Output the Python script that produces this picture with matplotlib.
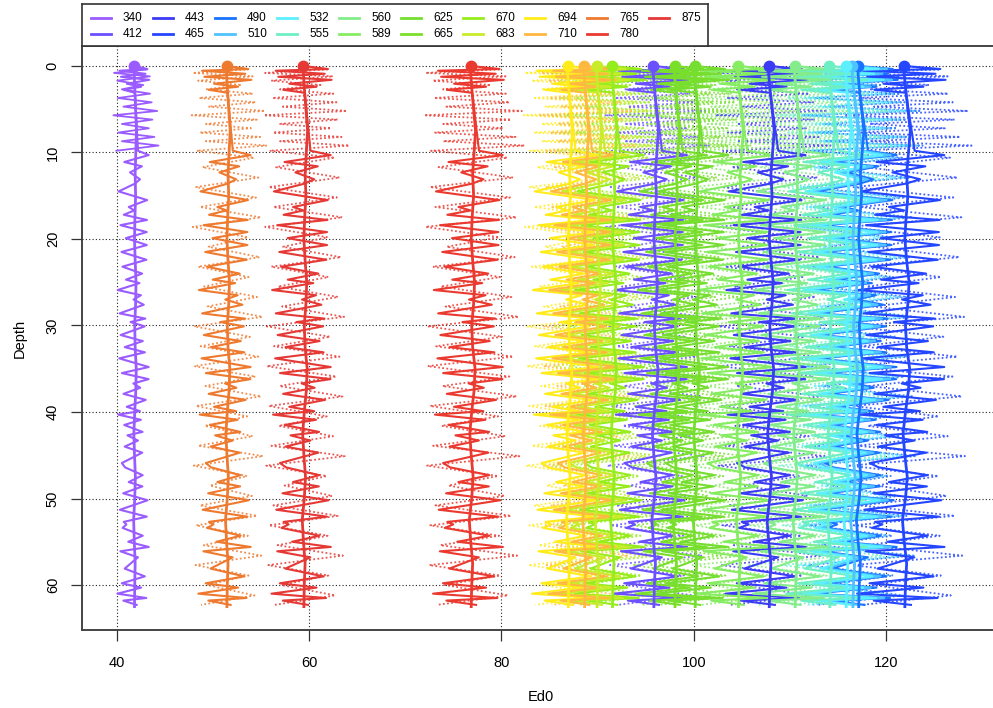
import numpy as np
import matplotlib
matplotlib.use("Agg")
import matplotlib.pyplot as plt

plt.rcParams['font.family'] = ['Liberation Sans', 'DejaVu Sans']

# ---------------- data ----------------
wavelengths = [340, 412, 443, 465, 490, 510, 532, 555, 560, 589,
               625, 665, 670, 683, 694, 710, 765, 780, 875]
colors = ['#9B5CFF', '#6A50FF', '#3B3BF5', '#2546FF', '#1A73FF', '#4FC3FF',
          '#5CF0FF', '#6CEFC2', '#84EC8A', '#86EC62', '#76DE30', '#7ADF2A',
          '#96EC1C', '#C9EC2A', '#FFEC1A', '#FFB840', '#EE7A30', '#EA3A30',
          '#E53935']
# Ed0 at the surface (dot at depth 0)
ed0_surface = [41.8, 95.8, 107.8, 121.9, 117.1, 116.5, 115.8, 114.1, 110.5, 104.6,
               100.1, 98.0, 91.5, 89.9, 86.9, 88.6, 51.4, 76.8, 59.4]
# amplitude of the fluctuations relative to the 780 nm profile
amp_scale = [0.45, 1.05, 1.15, 1.25, 1.2, 1.2, 1.15, 1.15, 1.1, 1.1,
             1.05, 1.0, 1.0, 1.0, 0.95, 0.95, 0.75, 1.0, 0.85]

# smooth profile (spine) offsets
spine_depth = [0, 1, 2.5, 5, 7.5, 10, 12.5, 15, 17.5, 20, 22.5, 25, 27.5, 30,
               32.5, 35, 37.5, 40, 42.5, 45, 47.5, 50, 52.5, 55, 57.5, 60, 62.5]
spine_off = [0, 0, 0.1, 0.3, 0.5, 0.35, 0.2, 0.3, 0.15, 0.05, 0.2, 0.4, 0.3, 0.1,
             0.2, 0.45, 0.35, 0.1, -0.1, 0.05, 0.25, 0.1, -0.15, 0.0, 0.2, 0.1, 0.05]

# raw measurements, dotted part (turning points)
dotted_depth = [0.0, 0.4, 0.8, 1.2, 1.7, 2.2, 2.7, 3.2, 3.7, 4.2,
                4.7, 5.2, 5.7, 6.2, 6.7, 7.2, 7.7, 8.2, 8.7, 9.2,
                9.8,
                10.6, 11.7, 12.9, 14.0, 15.2, 16.3, 17.5, 18.6, 19.8, 20.9,
                22.1, 23.2, 24.4, 25.5, 26.7, 27.8, 29.0, 30.1, 31.3, 32.4,
                33.6, 34.7, 35.9, 37.0, 38.2, 39.3, 40.5, 41.6, 42.8, 43.9,
                45.1, 46.2, 47.4, 48.5, 49.7, 50.8, 52.0, 53.1, 54.3, 55.4,
                56.6, 57.7, 58.9, 60.0, 61.2, 62.3]
dotted_off = [0.0, 3.0, -4.7, 3.6, -4.0, 2.0, -3.0, 3.5, -4.0, 3.8,
              -2.8, 5.0, -5.2, 3.8, -3.3, 2.9, -4.2, 4.2, -3.3, 5.2,
              -4.5,
              3.5, -3.6, 4.2, -4.5, 3.8, -3.9, 4.6, -4.8, 2.9, -2.6,
              4.4, -4.2, 2.7, -3.5, 3.9, -2.9, 4.8, -4.6, 3.1, -3.8,
              4.1, -4.9, 3.6, -3.3, 4.5, -4.4, 2.8, -3.0, 3.7, -3.9,
              5.0, -4.7, 2.6, -2.5, 3.4, -3.7, 4.3, -4.1, 3.0, -3.2,
              4.7, -4.5, 2.9, -2.8, 3.8, -3.6]

# raw measurements, solid part (turning points)
solid_depth = [0.0, 0.35, 0.55, 0.9, 1.25, 1.6, 2.05, 2.4, 2.75, 3.1,
               9.8, 10.3, 11.1, 11.6, 12.3, 13.1, 13.6, 14.5, 15.5, 16.3,
               16.7, 17.2, 17.8, 18.4, 19.2, 19.9, 20.7, 21.5, 22.4, 23.2,
               24.0, 24.7, 25.1, 25.9, 26.5, 27.0, 27.6, 28.6, 29.2, 29.6,
               30.1, 31.1, 31.8, 32.5, 33.1, 33.8, 34.8, 35.5, 36.2, 36.7,
               37.2, 37.9, 38.6, 39.4, 39.9, 40.3, 40.9, 41.5, 42.3, 42.7,
               43.3, 44.0, 44.7, 45.9, 46.4, 47.3, 48.1, 48.6, 49.4, 50.2,
               51.3, 52.1, 52.7, 53.0, 53.4, 54.3, 55.0, 55.6, 56.1, 56.8,
               58.1, 59.0, 59.8, 60.3, 61.0, 61.5, 61.8, 62.3]
solid_off = [0.0, 3.0, -3.4, 2.6, -3.1, 3.4, -1.8, 1.5, -2.6, 0.0,
             0.5, 3.0, -2.6, 1.5, -1.2, 1.1, -0.1, -3.9, 2.7, -1.5,
             -0.2, -2.6, 2.8, -3.3, 2.8, -2.0, 2.8, -3.1, 2.6, -3.0,
             1.5, -2.3, 0.8, -4.2, 1.2, -0.5, 1.9, -3.6, 2.4, -1.0,
             2.3, -3.3, 1.8, -2.4, 2.2, -3.8, 2.9, -3.3, 2.9, -0.6,
             1.0, -2.8, 2.4, -1.9, 1.2, -3.8, 1.5, -2.3, 2.0, -1.5,
             0.9, -2.2, 1.8, -3.0, -2.3, 1.7, -1.5, 1.7, -2.7, 3.0,
             -3.3, 3.0, -2.3, -1.7, -2.6, 2.0, -1.4, 3.3, -3.3, 0.7,
             -2.4, 2.3, -3.0, 1.5, -4.0, 2.7, -2.6, 0.5]

xticks = [40, 60, 80, 100, 120]
yticks = [0, 10, 20, 30, 40, 50, 60]

# ---------------- figure ----------------
W, H = 993, 708
fig = plt.figure(figsize=(W / 100, H / 100), dpi=100)
ax = fig.add_axes([82 / W, (H - 630) / H, (1000 - 82) / W, (630 - 46) / H])
ax.set_xlim(36.36, 131.86)
ax.set_ylim(65.2, -2.31)

for xv in xticks:
    ax.axvline(xv, color='#222222', lw=0.8, ls=(0, (1, 2)), zorder=0.5)
for yv in yticks:
    ax.axhline(yv, color='#222222', lw=0.8, ls=(0, (1, 2)), zorder=0.5)

sd = np.array(spine_depth)
so = np.array(spine_off)
dd = np.array(dotted_depth)
do = np.array(dotted_off)
sdd = np.array(solid_depth)
sdo = np.array(solid_off)


def spine_at(depths):
    return np.interp(depths, sd, so)


# dotted raw data
for wl, c, e, a in zip(wavelengths, colors, ed0_surface, amp_scale):
    base = e + a * spine_at(dd)
    x = base + a * do
    if wl == 340:
        top = dd <= 10.0
        ax.plot(x[top], dd[top], color=c, lw=1.3, zorder=2,
                solid_joinstyle='round')
    else:
        ax.plot(x, dd, color=c, lw=1.3, ls=(0, (1, 1.3)), alpha=0.85, zorder=1)

# solid raw data
for wl, c, e, a in zip(wavelengths, colors, ed0_surface, amp_scale):
    base = e + a * spine_at(sdd)
    ax.plot(base + a * sdo, sdd, color=c, lw=1.5, zorder=2,
            solid_joinstyle='round')

# smooth profile and surface value
for wl, c, e, a in zip(wavelengths, colors, ed0_surface, amp_scale):
    ax.plot(e + a * so, sd, color=c, lw=2.0, zorder=3)
    ax.plot([e], [0], 'o', color=c, ms=7.5, mec=c, zorder=4)

for s in ax.spines.values():
    s.set_linewidth(1.4)
    s.set_color('#444444')
ax.set_xticks(xticks)
ax.set_yticks(yticks)
ax.tick_params(axis='x', direction='out', length=8, width=0.9, pad=11,
               labelsize=10.5, color='#333333')
ax.tick_params(axis='y', direction='out', length=8, width=0.9, pad=8,
               labelsize=10.5, color='#333333')
for lab in ax.get_yticklabels():
    lab.set_rotation(90)
    lab.set_va('center')

fig.text(541 / W, 1 - 697 / H, 'Ed0', ha='center', va='center', fontsize=10.5)
fig.text(20 / W, 1 - 338 / H, 'Depth', ha='center', va='center',
         rotation=90, fontsize=10.5)

# ---------------- legend ----------------
lax = fig.add_axes([82 / W, 1 - 46 / H, (708 - 82) / W, 42 / H])
lax.set_xlim(0, 626)
lax.set_ylim(42, 0)
lax.set_xticks([])
lax.set_yticks([])
for s in lax.spines.values():
    s.set_linewidth(1.2)
    s.set_color('#333333')
for i, (wl, c) in enumerate(zip(wavelengths, colors)):
    col, row = i // 2, i % 2
    x0 = 9 + 62 * col
    y = 14 if row == 0 else 30
    lax.plot([x0, x0 + 20], [y, y], color=c, lw=2.0)
    lax.text(x0 + 32, y, str(wl), ha='left', va='center', fontsize=8.5)

fig.savefig('out.png', dpi=100)
